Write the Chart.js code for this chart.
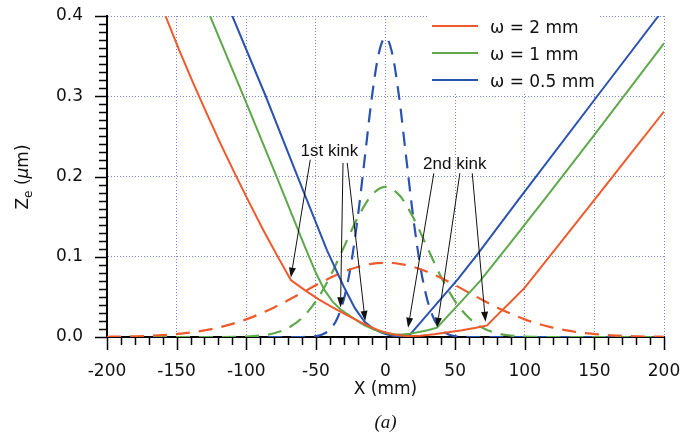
<!DOCTYPE html>
<html>
<head>
<meta charset="utf-8">
<script src="https://cdn.jsdelivr.net/npm/chart.js@4.4.1/dist/chart.umd.min.js"></script>
<style>
  html, body { margin: 0; padding: 0; background: #fff; }
  #chart { display: block; }
</style>
</head>
<body>
<canvas id="chart" width="698" height="439"></canvas>
<script>
// solid lines: Z_e profile for each beam radius
const seriesLabels = ['ω = 2 mm', 'ω = 1 mm', 'ω = 0.5 mm'];

const redX = [-158, -148, -138, -128, -118, -108, -98, -88, -78, -68, -58, -48, -38, -28, -18, -8, 0, 8, 15, 25, 35, 45, 55, 65, 73, 80, 90, 100, 125, 150, 175, 200];
const redY = [0.4, 0.357, 0.316, 0.277, 0.239, 0.203, 0.168, 0.134, 0.102, 0.071, 0.0585, 0.047, 0.037, 0.0275, 0.0185, 0.0105, 0.0055, 0.0025, 0.0012, 0.0017, 0.0035, 0.006, 0.0085, 0.0115, 0.0145, 0.027, 0.044, 0.0615, 0.116, 0.171, 0.226, 0.281];

const greenX = [-126, -101, -78, -58, -50, -44, -38, -32, -24, -16, -8, 0, 6, 12, 18, 25, 31, 37, 50, 68, 90, 113.5, 150, 200];
const greenY = [0.4, 0.296, 0.199, 0.113, 0.08, 0.059, 0.044, 0.034, 0.0245, 0.0155, 0.009, 0.005, 0.0032, 0.003, 0.0042, 0.0065, 0.0088, 0.0117, 0.036, 0.07, 0.118, 0.17, 0.252, 0.366];

const blueX = [-110, -86, -62, -42, -30, -22, -15, -10, -5, 0, 5, 10, 14, 17.6, 30, 52, 66, 95, 152, 196, 200];
const blueY = [0.4, 0.3, 0.195, 0.108, 0.063, 0.036, 0.019, 0.012, 0.0072, 0.0038, 0.0016, 0.0008, 0.0012, 0.003, 0.028, 0.072, 0.103, 0.17, 0.3, 0.4, 0.41];

// dashed lines: intensity profiles
const redDashX = [-200, -190, -180, -170, -160, -150, -140, -130, -120, -110, -100, -90, -80, -70, -60, -50, -40, -30, -20, -10, 0,
                  10, 20, 30, 40, 50, 60, 70, 80, 90, 100, 110, 120, 130, 140, 150, 160, 170, 180, 190, 200];
const redDashY = [0.0003, 0.0005, 0.0009, 0.0015, 0.0023, 0.0037, 0.0055, 0.0082, 0.0117, 0.0163, 0.022, 0.0289, 0.0369, 0.0458, 0.0551, 0.0646, 0.0735, 0.0813, 0.0873, 0.0912, 0.0925,
                  0.0912, 0.0873, 0.0813, 0.0735, 0.0646, 0.0551, 0.0458, 0.0369, 0.0289, 0.022, 0.0163, 0.0117, 0.0082, 0.0055, 0.0037, 0.0023, 0.0015, 0.0009, 0.0005, 0.0003];

const greenDashX = [-200, -150, -120, -100, -90, -80, -70, -60, -50, -40, -30, -20, -10, 0, 10, 20, 30, 40, 50, 60, 70, 80, 90, 100, 120, 150, 200];
const greenDashY = [0, 0, 0, 0.0006, 0.0018, 0.0047, 0.0112, 0.0236, 0.0445, 0.0746, 0.1115, 0.1486, 0.1765, 0.187, 0.1765, 0.1486, 0.1115, 0.0746, 0.0445, 0.0236, 0.0112, 0.0047, 0.0018, 0.0006, 0, 0, 0];

const blueDashX = [-200, -120, -80, -60, -55, -50, -45, -40, -35, -30, -25, -20, -15, -10, -5, 0, 5, 10, 15, 20, 25, 30, 35, 40, 45, 50, 55, 60, 80, 120, 200];
const blueDashY = [0, 0, 0, 0, 0.0003, 0.0011, 0.0034, 0.0092, 0.0219, 0.0464, 0.088, 0.148, 0.2215, 0.296, 0.352, 0.373, 0.352, 0.296, 0.2215, 0.148, 0.088, 0.0464, 0.0219, 0.0092, 0.0034, 0.0011, 0.0003, 0, 0, 0, 0];

const xTickValues = [-200, -150, -100, -50, 0, 50, 100, 150, 200];
const yTickValues = [0, 0.1, 0.2, 0.3, 0.4];

// kink annotations (data units)
const kinkText = ['1st kink', '2nd kink'];
const kinkTextX = [-61, 27];
const kinkTextY = [0.226, 0.209];
const arrowTailX = [-54, -30.5, -27.5, 34.7, 53.4, 62.3];
const arrowTailY = [0.221, 0.217, 0.217, 0.204, 0.204, 0.204];
const arrowTipX = [-68, -32.3, -14.6, 16.2, 37, 71.8];
const arrowTipY = [0.074, 0.037, 0.02, 0.0115, 0.0118, 0.019];

const seriesColors = ['#ef5a2c', '#5ea84b', '#2a52b0'];
const gridColor = '#7a86d4';
const FONT = '"DejaVu Sans", sans-serif';

function points(xs, ys) {
    return xs.map((x, i) => ({ x: x, y: ys[i] }));
}

function solid(i, xs, ys) {
    return {
        label: seriesLabels[i],
        data: points(xs, ys),
        borderColor: seriesColors[i],
        borderWidth: 2,
        pointRadius: 0,
        tension: 0,
        order: 0
    };
}

function dashed(i, xs, ys) {
    return {
        data: points(xs, ys),
        borderColor: seriesColors[i],
        borderWidth: 2.2,
        borderDash: [14, 9],
        pointRadius: 0,
        cubicInterpolationMode: 'monotone',
        order: 1
    };
}

function drawArrow(ctx, x1, y1, x2, y2) {
    const a = Math.atan2(y2 - y1, x2 - x1);
    const len = 10, w = 3.5;
    const bx = x2 - len * Math.cos(a), by = y2 - len * Math.sin(a);
    ctx.beginPath();
    ctx.moveTo(x1, y1);
    ctx.lineTo(bx, by);
    ctx.stroke();
    ctx.beginPath();
    ctx.moveTo(x2, y2);
    ctx.lineTo(bx + w * Math.sin(a), by - w * Math.cos(a));
    ctx.lineTo(bx - w * Math.sin(a), by + w * Math.cos(a));
    ctx.closePath();
    ctx.fill();
}

const decorations = {
    id: 'decorations',

    beforeDatasetsDraw: function (chart) {
        const ctx = chart.ctx;
        const a = chart.chartArea;
        ctx.save();
        ctx.fillStyle = '#fff';
        ctx.fillRect(a.right - 236, a.top - 2, 172, 78);
        ctx.font = '17px ' + FONT;
        ctx.textBaseline = 'alphabetic';
        seriesLabels.forEach(function (lab, i) {
            const y = a.top + 10 + i * 27;
            ctx.strokeStyle = seriesColors[i];
            ctx.lineWidth = 2;
            ctx.beginPath();
            ctx.moveTo(a.right - 232, y);
            ctx.lineTo(a.right - 186, y);
            ctx.stroke();
            ctx.fillStyle = '#111';
            ctx.fillText(lab, a.right - 174, y + 7);
        });
        ctx.restore();
    },

    afterDatasetsDraw: function (chart) {
        const ctx = chart.ctx;
        const xs = chart.scales.x, ys = chart.scales.y;
        ctx.save();
        ctx.fillStyle = '#111';
        ctx.strokeStyle = '#111';
        ctx.lineWidth = 1;
        ctx.font = '17px "Liberation Sans", sans-serif';
        kinkText.forEach(function (t, i) {
            ctx.fillText(t, xs.getPixelForValue(kinkTextX[i]), ys.getPixelForValue(kinkTextY[i]));
        });
        arrowTailX.forEach(function (v, i) {
            drawArrow(ctx,
                xs.getPixelForValue(v), ys.getPixelForValue(arrowTailY[i]),
                xs.getPixelForValue(arrowTipX[i]), ys.getPixelForValue(arrowTipY[i]));
        });
        ctx.restore();
    },

    afterDraw: function (chart) {
        const ctx = chart.ctx;
        const a = chart.chartArea;
        const xs = chart.scales.x, ys = chart.scales.y;
        ctx.save();
        ctx.strokeStyle = '#000';
        ctx.lineWidth = 1.5;
        // minor + major ticks
        for (let i = 0; i <= 40; i++) {
            const py = Math.round(ys.getPixelForValue(i / 100)) + 0.5;
            const len = i % 10 === 0 ? 12 : 8;
            ctx.beginPath();
            ctx.moveTo(a.left, py);
            ctx.lineTo(a.left - len, py);
            ctx.stroke();
        }
        for (let i = -20; i <= 20; i++) {
            const px = Math.round(xs.getPixelForValue(i * 10)) + 0.5;
            const len = i % 5 === 0 ? 13 : 8;
            ctx.beginPath();
            ctx.moveTo(px, a.bottom);
            ctx.lineTo(px, a.bottom + len);
            ctx.stroke();
        }

        // y title: Z_e (μm)
        ctx.fillStyle = '#111';
        ctx.textBaseline = 'alphabetic';
        const parts = [
            ['Z', '17px ' + FONT, 0],
            ['e', '12px ' + FONT, 4],
            [' (', '17px ' + FONT, 0],
            ['μ', 'italic 17px ' + FONT, 0],
            ['m)', '17px ' + FONT, 0]
        ];
        let total = 0;
        parts.forEach(function (p) { ctx.font = p[1]; total += ctx.measureText(p[0]).width; });
        ctx.save();
        ctx.translate(28, 177);
        ctx.rotate(-Math.PI / 2);
        let x = -total / 2;
        parts.forEach(function (p) {
            ctx.font = p[1];
            ctx.fillText(p[0], x, p[2]);
            x += ctx.measureText(p[0]).width;
        });
        ctx.restore();

        // x title and panel label
        ctx.textAlign = 'center';
        ctx.font = '17px ' + FONT;
        ctx.fillText('X (mm)', (a.left + a.right) / 2, 394);
        ctx.font = 'italic 19px "Liberation Serif", serif';
        ctx.fillText('(a)', (a.left + a.right) / 2, 428);
        ctx.restore();
    }
};

new Chart(document.getElementById('chart'), {
    type: 'line',
    data: {
        datasets: [
            solid(0, redX, redY),
            solid(1, greenX, greenY),
            solid(2, blueX, blueY),
            dashed(0, redDashX, redDashY),
            dashed(1, greenDashX, greenDashY),
            dashed(2, blueDashX, blueDashY)
        ]
    },
    options: {
        responsive: false,
        animation: false,
        layout: { padding: { left: 0, right: 34, top: 16, bottom: 0 } },
        plugins: {
            legend: { display: false },
            tooltip: { enabled: false }
        },
        scales: {
            x: {
                type: 'linear',
                min: -200,
                max: 200,
                afterBuildTicks: function (s) { s.ticks = xTickValues.map(function (v) { return { value: v }; }); },
                afterFit: function (s) { s.height = 102; s.paddingLeft = 0; s.paddingRight = 0; },
                ticks: {
                    autoSkip: false,
                    maxRotation: 0,
                    padding: 24,
                    color: '#111',
                    font: { family: FONT, size: 17 }
                },
                grid: { color: gridColor, lineWidth: 1, drawTicks: false },
                border: { color: '#000', width: 2, dash: [1, 2] }
            },
            y: {
                min: 0,
                max: 0.4,
                afterBuildTicks: function (s) { s.ticks = yTickValues.map(function (v) { return { value: v }; }); },
                afterFit: function (s) { s.width = 107; s.paddingTop = 0; s.paddingBottom = 0; },
                ticks: {
                    padding: 24,
                    color: '#111',
                    font: { family: FONT, size: 17 },
                    callback: function (v) { return v.toFixed(1); }
                },
                grid: { color: gridColor, lineWidth: 1, drawTicks: false },
                border: { color: '#000', width: 2, dash: [1, 2] }
            }
        }
    },
    plugins: [decorations]
});
</script>
</body>
</html>
